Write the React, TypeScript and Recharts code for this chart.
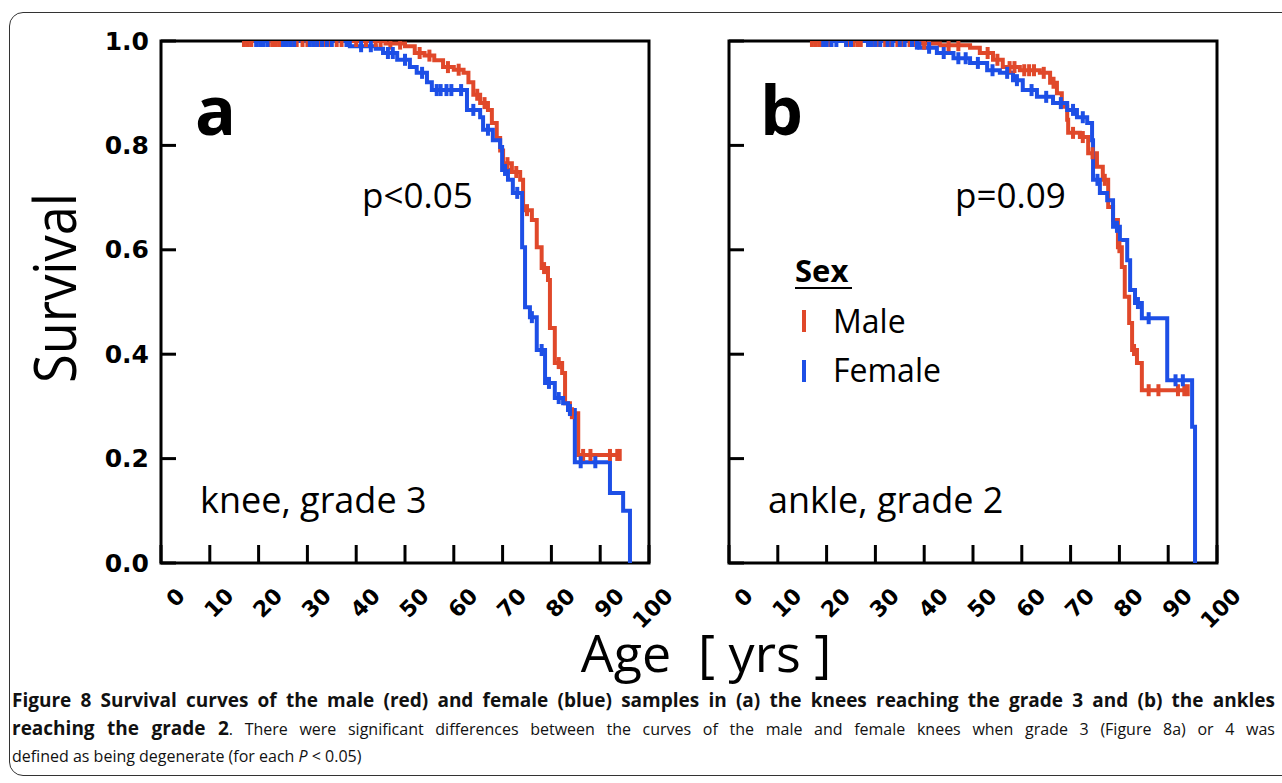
import React from 'react';
import { LineChart, Line, XAxis, YAxis, ReferenceArea } from 'recharts';

// panel a: knee, grade 3  (step ages / survival after the step / censored ages)
const kneeMaleAge = [16.8, 46, 50, 52, 54, 56, 57.8, 60, 62, 63, 64, 65.4, 67, 67.8, 68.8, 69.5, 70.1, 71.9, 73.6, 74.2, 76, 77, 78, 79.3, 79.7, 80.7, 82.2, 82.8, 83.8, 85.5];
const kneeMaleSurv = [1, 0.995, 0.99, 0.977, 0.972, 0.963, 0.95, 0.945, 0.939, 0.921, 0.897, 0.881, 0.868, 0.843, 0.814, 0.79, 0.766, 0.749, 0.734, 0.676, 0.657, 0.605, 0.565, 0.542, 0.45, 0.383, 0.364, 0.306, 0.287, 0.207];
const kneeMaleCens = [17, 17.8, 18.5, 22, 22.8, 23.5, 24.2, 27, 27.8, 29, 30, 31.5, 32.5, 33.5, 34.3, 36, 37, 40, 42, 44, 45, 47, 49, 53, 55, 58.8, 61, 64.8, 66.3, 71, 72.8, 75, 78.5, 81.5, 84.2, 86.5, 88, 92, 93.5, 94];

const kneeFemaleAge = [19, 38.7, 44, 45.5, 48.4, 51, 52.4, 54.5, 55.5, 62.7, 65.4, 66, 68, 69.5, 69.9, 71.1, 72.1, 74, 74.6, 75.6, 77, 78.7, 80.7, 82.4, 83.4, 84.8, 92, 94.7, 96.1];
const kneeFemaleSurv = [1, 0.99, 0.985, 0.977, 0.964, 0.95, 0.939, 0.921, 0.906, 0.868, 0.854, 0.83, 0.81, 0.797, 0.753, 0.734, 0.709, 0.605, 0.49, 0.471, 0.408, 0.345, 0.316, 0.306, 0.293, 0.193, 0.134, 0.1, 0];
const kneeFemaleCens = [19.5, 20.3, 21, 21.8, 25, 25.8, 26.5, 27.3, 30.5, 31.2, 32, 33, 34, 35, 38, 41, 43, 46.5, 47.5, 50, 53.5, 56.5, 57.3, 58.5, 59.5, 61.5, 64, 67, 70.5, 73, 76, 78, 79.5, 81.5, 83.8, 86, 89];

// panel b: ankle, grade 2
const ankleMaleAge = [17, 39.5, 43.2, 49.4, 51.4, 54.1, 56.1, 59.6, 63.7, 65.8, 67.2, 68.2, 69.3, 69.5, 71.9, 73.6, 75.4, 76.6, 77.7, 78.7, 79.7, 80.5, 81.1, 82, 82.6, 83.6, 84.6];
const ankleMaleSurv = [1, 0.995, 0.992, 0.987, 0.977, 0.964, 0.95, 0.944, 0.939, 0.92, 0.9, 0.874, 0.849, 0.824, 0.816, 0.785, 0.759, 0.734, 0.682, 0.657, 0.605, 0.567, 0.51, 0.46, 0.408, 0.383, 0.331];
const ankleMaleCens = [17, 17.8, 18.5, 19.2, 20, 20.8, 24, 24.8, 25.5, 26.3, 27, 28.5, 29.5, 30.5, 32, 33, 34.5, 35.5, 37, 38, 40, 41, 45, 47, 53, 55, 57.5, 58.5, 60.5, 61.5, 62.5, 64.5, 66.5, 70.5, 72.5, 74.5, 77, 80, 83, 86, 88, 92, 93.3, 94];

const ankleFemaleAge = [19, 38.5, 39, 42.6, 46, 49.4, 52.9, 55.5, 58.2, 60.2, 63.1, 66.4, 69.3, 71.3, 73.4, 74.4, 74.6, 76, 77.5, 78.7, 80.1, 81.6, 82.2, 83.2, 84.6, 89.8, 94.9, 95.5];
const ankleFemaleSurv = [1, 0.995, 0.987, 0.977, 0.967, 0.958, 0.944, 0.939, 0.925, 0.906, 0.893, 0.881, 0.868, 0.854, 0.843, 0.81, 0.734, 0.709, 0.695, 0.644, 0.619, 0.58, 0.523, 0.498, 0.469, 0.35, 0.261, 0];
const ankleFemaleCens = [19.3, 20, 21, 22, 24, 25, 28.5, 29.2, 30, 31, 32.5, 33.5, 35, 36, 37.5, 38.5, 41, 44, 47, 48.5, 51, 54, 57, 59, 62, 65, 68, 70.5, 72.5, 75.5, 79.5, 83.8, 86, 91.5, 93];

const ageTicks = [0, 10, 20, 30, 40, 50, 60, 70, 80, 90, 100];
const survTicks = [0, 0.2, 0.4, 0.6, 0.8, 1];

const RED = '#e0482a';
const BLUE = '#1d4fe6';
const SANS = '"Open Sans", sans-serif';
const TICKFONT = '"DejaVu Sans", sans-serif';

type Pt = { age: number; s: number; c: boolean };

// merge steps and censor marks; a censored point sits on the current step
function km(ages: number[], surv: number[], cens: number[]): Pt[] {
  const pts: Pt[] = ages.map((a, i) => ({ age: a, s: surv[i], c: false }));
  cens.forEach((a) => {
    let s = surv[0];
    ages.forEach((t, i) => { if (t <= a) s = surv[i]; });
    pts.push({ age: a, s, c: true });
  });
  return pts.sort((p, q) => p.age - q.age);
}

const censorDot = (color: string) => (props: any) => {
  const { cx, cy, payload, index } = props;
  if (!payload || !payload.c) return <g key={`n${index}`} />;
  return <rect key={`c${index}`} x={cx - 2} y={cy - 6} width={4} height={12} fill={color} />;
};

const BottomTick = (props: any) => {
  const { x, y, payload } = props;
  return (
    <g>
      <line x1={x} x2={x} y1={y} y2={y - 18} stroke="#000" strokeWidth={3} />
      <text transform={`translate(${x + 20},${y + 29}) rotate(-45)`} textAnchor="end" dominantBaseline="central"
        fontFamily={TICKFONT} fontWeight="bold" fontSize={22} fill="#000">{payload.value}</text>
    </g>
  );
};

const TopTick = (props: any) => {
  const { x, y } = props;
  return <line x1={x} x2={x} y1={y} y2={y + 14} stroke="#000" strokeWidth={3} />;
};

const LeftTick = (props: any) => {
  const { x, y, payload, show } = props;
  return (
    <g>
      <line x1={x} x2={x + 15} y1={y} y2={y} stroke="#000" strokeWidth={3} />
      {show && (
        <text x={x - 12} y={y} textAnchor="end" dominantBaseline="central"
          fontFamily={TICKFONT} fontWeight="bold" fontSize={25} fill="#000">{Number(payload.value).toFixed(1)}</text>
      )}
    </g>
  );
};

const RightTick = (props: any) => {
  const { x, y } = props;
  return <line x1={x} x2={x - 16} y1={y} y2={y} stroke="#000" strokeWidth={3} />;
};

function Panel({ left, male, female, showY }: { left: number; male: Pt[]; female: Pt[]; showY: boolean }) {
  return (
    <div style={{ position: 'absolute', left, top: 0 }}>
      <LineChart width={700} height={640} margin={{ top: 40, right: 50, bottom: 76, left: 0 }}>
        <XAxis dataKey="age" type="number" domain={[0, 100]} ticks={ageTicks} interval={0} height={1}
          axisLine={false} tickLine={false} tickSize={0} tickMargin={0} tick={<BottomTick />} />
        <XAxis xAxisId="top" orientation="top" type="number" domain={[0, 100]} ticks={ageTicks} interval={0} height={1}
          axisLine={false} tickLine={false} tickSize={0} tickMargin={0} tick={<TopTick />} />
        <YAxis type="number" domain={[0, 1]} ticks={survTicks} interval={0} width={161} allowDataOverflow
          axisLine={false} tickLine={false} tickSize={0} tickMargin={0} tick={<LeftTick show={showY} />} />
        <YAxis yAxisId="right" orientation="right" type="number" domain={[0, 1]} ticks={survTicks} interval={0} width={1}
          axisLine={false} tickLine={false} tickSize={0} tickMargin={0} tick={<RightTick />} />
        <ReferenceArea x1={0} x2={100} y1={0} y2={1} fill="none" stroke="#000" strokeWidth={3} />
        <Line data={male} dataKey="s" type="stepAfter" stroke={RED} strokeWidth={4} dot={censorDot(RED)} activeDot={false} isAnimationActive={false} />
        <Line data={female} dataKey="s" type="stepAfter" stroke={BLUE} strokeWidth={4} dot={censorDot(BLUE)} activeDot={false} isAnimationActive={false} />
      </LineChart>
    </div>
  );
}

export default function App() {
  const kneeM = km(kneeMaleAge, kneeMaleSurv, kneeMaleCens);
  const kneeF = km(kneeFemaleAge, kneeFemaleSurv, kneeFemaleCens);
  const ankleM = km(ankleMaleAge, ankleMaleSurv, ankleMaleCens);
  const ankleF = km(ankleFemaleAge, ankleFemaleSurv, ankleFemaleCens);

  const line = { position: 'absolute' as const, left: 12, width: 1263, fontFamily: SANS, fontSize: 16, lineHeight: '28px', color: '#111', whiteSpace: 'nowrap' as const };
  const bold = { fontSize: 19 };

  return (
    <div style={{ position: 'absolute', left: 0, top: 0, width: 1282, height: 783, overflow: 'hidden', background: '#fff' }}>
      <div style={{ position: 'absolute', left: 9, top: 12, width: 1300, height: 762, border: '1.5px solid #333', borderRadius: 14 }} />
      <Panel left={0} male={kneeM} female={kneeF} showY />
      <Panel left={568} male={ankleM} female={ankleF} showY={false} />
      <svg width={1282} height={783} style={{ position: 'absolute', left: 0, top: 0, pointerEvents: 'none' }}>
        <g fontFamily={SANS} fill="#000">
          <text transform="translate(76,288) rotate(-90)" textAnchor="middle" fontSize={58} textLength={190} lengthAdjust="spacingAndGlyphs">Survival</text>
          <text x={706} y={672} textAnchor="middle" fontSize={52} style={{ whiteSpace: 'pre' }}>{'Age  [ yrs ]'}</text>
          <text x={195} y={135} fontSize={68} fontWeight="bold">a</text>
          <text x={760} y={135} fontSize={68} fontWeight="bold">b</text>
          <text x={362} y={208} fontSize={35}>p&lt;0.05</text>
          <text x={955} y={208} fontSize={35}>p=0.09</text>
          <text x={200} y={513} fontSize={36}>knee, grade 3</text>
          <text x={768} y={513} fontSize={36}>ankle, grade 2</text>
          <text x={795} y={282} fontSize={31} fontWeight="bold">Sex</text>
          <line x1={795} x2={852} y1={288} y2={288} stroke="#000" strokeWidth={2} />
          <rect x={802} y={310} width={4} height={22} fill={RED} />
          <text x={833} y={333} fontSize={32}>Male</text>
          <rect x={802} y={360} width={4} height={22} fill={BLUE} />
          <text x={833} y={382} fontSize={32}>Female</text>
        </g>
      </svg>
      <div style={{ ...line, top: 686, textAlign: 'justify', textAlignLast: 'justify' }}>
        <b style={bold}>Figure 8 Survival curves of the male (red) and female (blue) samples in (a) the knees reaching the grade 3 and (b) the ankles</b>
      </div>
      <div style={{ ...line, top: 714, textAlign: 'justify', textAlignLast: 'justify' }}>
        <b style={bold}>reaching the grade 2</b>. There were significant differences between the curves of the male and female knees when grade 3 (Figure 8a) or 4 was
      </div>
      <div style={{ ...line, top: 742 }}>
        defined as being degenerate (for each <i>P</i> &lt; 0.05)
      </div>
    </div>
  );
}
